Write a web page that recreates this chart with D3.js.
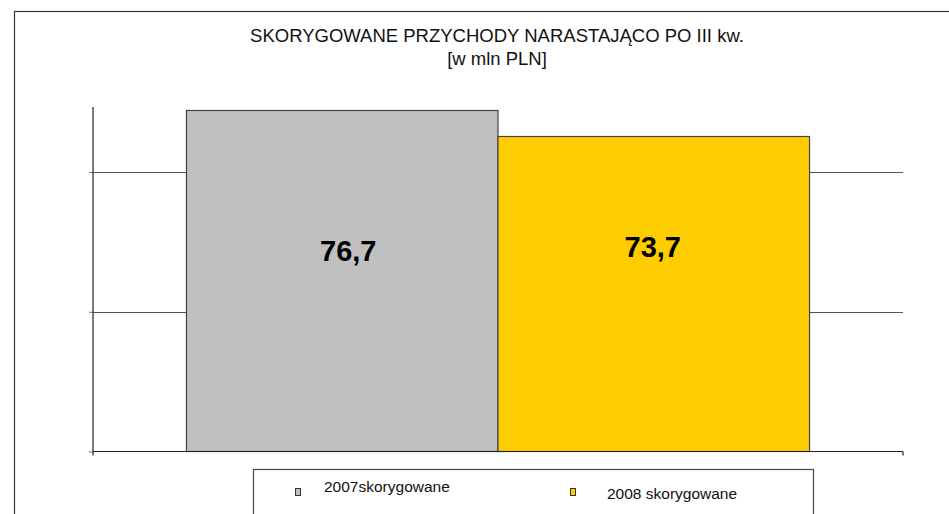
<!DOCTYPE html>
<html lang="pl">
<head>
  <meta charset="UTF-8">
  <title>Skorygowane przychody</title>
  <script src="https://d3js.org/d3.v7.min.js"></script>
  <style>
    body { margin: 0; background: #fff; font-family: "Liberation Sans", Arial, sans-serif; }
    svg { display: block; }
  </style>
</head>
<body>
  <svg id="chart" width="949" height="514"></svg>
  <script>
    // dane
    const categories = ['2007skorygowane', '2008 skorygowane'];
    const values = [76.7, 73.7];
    const valueLabels = ['76,7', '73,7'];
    const colors = ['#c0c0c0', '#ffcc00'];
    const labelFrac = [0.41, 0.35]; // położenie etykiety w słupku (od góry)
    const yDomain = [37.4, 77.1];
    const yTicks = [37.4, 53.5, 69.6];

    const svg = d3.select('#chart');
    const W = 949, H = 514;
    const plot = { left: 93, right: 903, top: 107, bottom: 451.5 };

    // ramka wykresu (wychodzi poza kadr z prawej i u dołu)
    svg.append('rect')
      .attr('x', 14.5).attr('y', 11.5)
      .attr('width', W).attr('height', H)
      .attr('fill', 'none').attr('stroke', '#333').attr('stroke-width', 1.2);

    svg.append('text')
      .attr('x', 497).attr('y', 42)
      .attr('text-anchor', 'middle')
      .attr('font-size', 18.5)
      .attr('fill', '#111')
      .text('SKORYGOWANE PRZYCHODY NARASTAJĄCO PO III kw.');
    svg.append('text')
      .attr('x', 497).attr('y', 65)
      .attr('text-anchor', 'middle')
      .attr('font-size', 18.5)
      .attr('fill', '#111')
      .text('[w mln PLN]');

    const x = d3.scaleBand()
      .domain(categories)
      .range([plot.left, plot.right])
      .paddingInner(0)
      .paddingOuter(0.3);

    const y = d3.scaleLinear()
      .domain(yDomain)
      .range([plot.bottom, plot.top]);

    // linie siatki
    svg.append('g')
      .selectAll('line')
      .data(yTicks.slice(1))
      .join('line')
      .attr('x1', plot.left).attr('x2', plot.right)
      .attr('y1', d => Math.round(y(d)) + 0.5)
      .attr('y2', d => Math.round(y(d)) + 0.5)
      .attr('stroke', '#555').attr('stroke-width', 1.2);

    // słupki
    svg.append('g')
      .selectAll('rect')
      .data(values)
      .join('rect')
      .attr('x', (d, i) => x(categories[i]))
      .attr('y', d => y(d))
      .attr('width', x.bandwidth())
      .attr('height', d => plot.bottom - y(d))
      .attr('fill', (d, i) => colors[i])
      .attr('stroke', '#444').attr('stroke-width', 1.2);

    // oś Y
    const yAxis = d3.axisLeft(y).tickValues(yTicks).tickSize(4).tickFormat('');
    const gy = svg.append('g')
      .attr('transform', `translate(${plot.left},0)`)
      .call(yAxis);
    gy.select('.domain').remove();
    gy.selectAll('.tick line').attr('stroke', '#777');
    gy.append('line')
      .attr('x1', 0).attr('x2', 0)
      .attr('y1', plot.top).attr('y2', plot.bottom + 4)
      .attr('stroke', '#222').attr('stroke-width', 1.2);

    // oś X
    svg.append('line')
      .attr('x1', plot.left).attr('x2', plot.right)
      .attr('y1', plot.bottom).attr('y2', plot.bottom)
      .attr('stroke', '#222').attr('stroke-width', 1.2);
    svg.append('line')
      .attr('x1', plot.right).attr('x2', plot.right)
      .attr('y1', plot.bottom).attr('y2', plot.bottom + 4)
      .attr('stroke', '#222').attr('stroke-width', 1.2);

    // etykiety wartości
    svg.append('g')
      .selectAll('text')
      .data(values)
      .join('text')
      .attr('x', (d, i) => x(categories[i]) + x.bandwidth() / 2 + (i === 0 ? 6 : -1))
      .attr('y', (d, i) => y(d) + (plot.bottom - y(d)) * labelFrac[i])
      .attr('dy', '0.36em')
      .attr('text-anchor', 'middle')
      .attr('font-size', 29)
      .attr('font-weight', 'bold')
      .attr('fill', '#000')
      .text((d, i) => valueLabels[i]);

    // legenda
    const legend = svg.append('g');
    legend.append('rect')
      .attr('x', 253.5).attr('y', 469.5)
      .attr('width', 560).attr('height', 60)
      .attr('fill', '#fff').attr('stroke', '#444').attr('stroke-width', 1.2);
    const legItems = [
      { sx: 295, tx: 324, ty: 492 },
      { sx: 570, tx: 607, ty: 499 }
    ];
    legend.selectAll('g.item')
      .data(categories)
      .join('g')
      .attr('class', 'item')
      .each(function (d, i) {
        const g = d3.select(this);
        g.append('rect')
          .attr('x', legItems[i].sx + 0.5).attr('y', 488.5)
          .attr('width', 5).attr('height', 7)
          .attr('fill', colors[i]).attr('stroke', '#333').attr('stroke-width', 1);
        g.append('text')
          .attr('x', legItems[i].tx).attr('y', legItems[i].ty)
          .attr('font-size', 15.5)
          .attr('fill', '#111')
          .text(d);
      });
  </script>
</body>
</html>
